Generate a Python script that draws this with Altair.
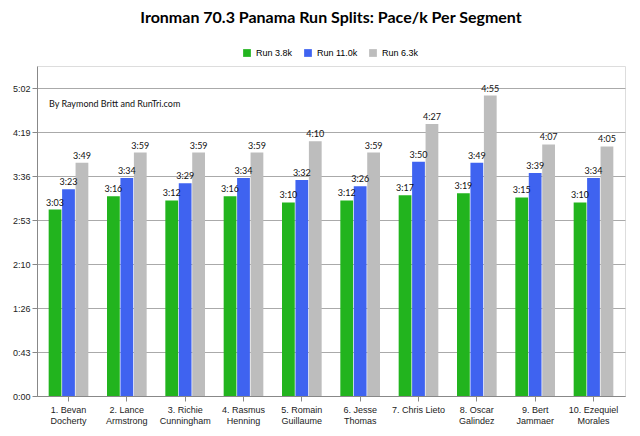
import altair as alt
import pandas as pd

athletes = ["1. Bevan|Docherty","2. Lance|Armstrong","3. Richie|Cunningham","4. Rasmus|Henning",
            "5. Romain|Guillaume","6. Jesse|Thomas","7. Chris Lieto|","8. Oscar|Galindez",
            "9. Bert|Jammaer","10. Ezequiel|Morales"]
series = ["Run 3.8k","Run 11.0k","Run 6.3k"]
run38 = ["3:03","3:16","3:12","3:16","3:10","3:12","3:17","3:19","3:15","3:10"]
run110 = ["3:23","3:34","3:29","3:34","3:32","3:26","3:50","3:49","3:39","3:34"]
run63 = ["3:49","3:59","3:59","3:59","4:10","3:59","4:27","4:55","4:07","4:05"]
colors = ["#22b41e","#3f63f0","#bdbdbd"]

rows = []
for i, a in enumerate(athletes):
    for s, vals in zip(series, [run38, run110, run63]):
        m, sec = vals[i].split(":")
        rows.append({"athlete": a, "series": s, "label": vals[i], "sec": int(m)*60+int(sec)})
df = pd.DataFrame(rows)

ticks = [0, 43.2, 86.4, 129.6, 172.8, 216, 259.2, 302.4]

base = alt.Chart(df).encode(
    x=alt.X("athlete:N", sort=athletes, title=None,
            scale=alt.Scale(paddingInner=0.32, paddingOuter=0.2),
            axis=alt.Axis(labelAngle=0, labelExpr="split(datum.label, '|')", labelFontSize=9,
                          labelColor="#222", domainColor="#888", tickColor="#888", labelPadding=4)),
    xOffset=alt.XOffset("series:N", sort=series, scale=alt.Scale(paddingInner=0.05)),
)
bars = base.mark_bar().encode(
    y=alt.Y("sec:Q", title=None, scale=alt.Scale(domain=[0, 324], nice=False),
            axis=alt.Axis(values=ticks, labelExpr="floor(round(datum.value)/60) + ':' + (round(datum.value)%60 < 10 ? '0' : '') + (round(datum.value)%60)",
                          labelFontSize=9, labelColor="#222", gridColor="#aaa", domainColor="#888",
                          tickColor="#888")),
    color=alt.Color("series:N", sort=series, scale=alt.Scale(domain=series, range=colors),
                    legend=alt.Legend(orient="none", legendX=205, legendY=-18, title=None,
                                      direction="horizontal", symbolType="square",
                                      labelFontSize=9, symbolSize=60)),
)
text = base.mark_text(dy=-7, fontSize=9, color="#111").encode(
    y="sec:Q", text="label:N")

note = alt.Chart(pd.DataFrame({"t": ["By Raymond Britt and RunTri.com"]})).mark_text(
    align="left", fontSize=9, color="#111").encode(
    x=alt.value(12), y=alt.value(38), text="t:N")

chart = alt.layer(bars, text, note).properties(
    width=588, height=330,
    title=alt.TitleParams("Ironman 70.3 Panama Run Splits: Pace/k Per Segment",
                          fontSize=16, fontWeight="bold", font="Lato", offset=22),
).configure_view(stroke="#888").configure_axis(labelFont="Lato").configure_legend(labelFont="Lato").configure(
    padding={"left": 4, "right": 4, "top": 2, "bottom": 2}).configure_text(font="Lato")

chart.save("out.html", embed_options={"renderer": "svg", "actions": False})
